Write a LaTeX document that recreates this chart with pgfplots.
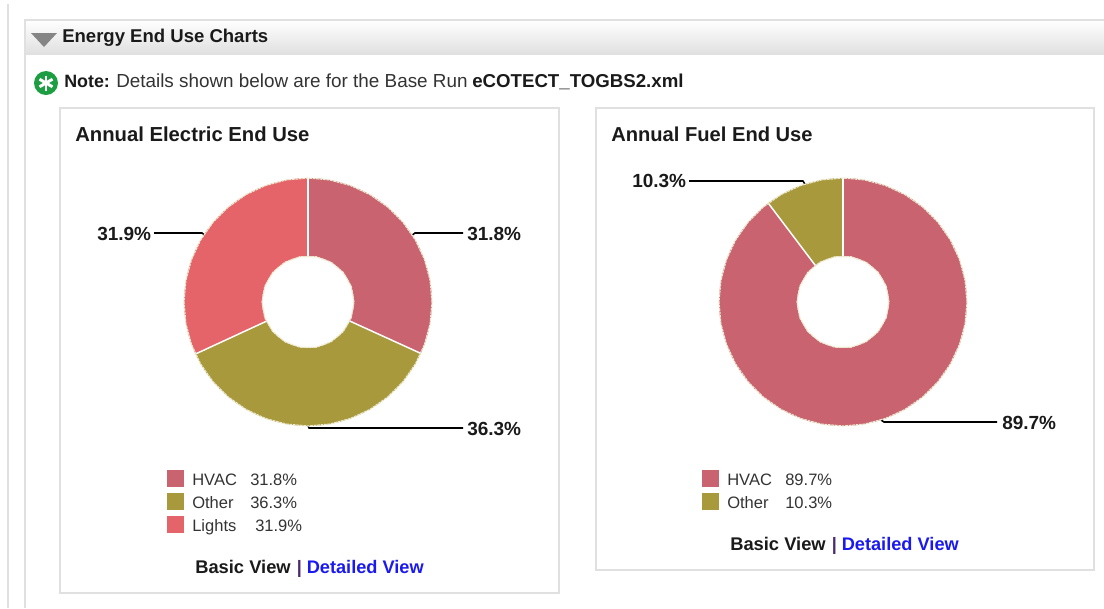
\documentclass[border=0pt]{standalone}
\usepackage{fontspec}
\setmainfont{Liberation Sans}
\usepackage{pgfplots}
\usepackage{pgfplotstable}
\pgfplotsset{compat=1.18}
\usepgfplotslibrary{polar}
\definecolor{cHVAC}{HTML}{C96370}
\definecolor{cOther}{HTML}{A89A3C}
\definecolor{cLights}{HTML}{E56469}
\definecolor{cFrame}{HTML}{E0E0E0}
\definecolor{cEdge}{HTML}{EDE9D0}
\definecolor{cLink}{HTML}{1A1AF0}
\definecolor{cGreen}{HTML}{1E9E42}
\definecolor{cInk}{HTML}{1A1A1A}
\definecolor{cGrey}{HTML}{333333}
\definecolor{cPipe}{HTML}{4A2A70}
\pgfplotstableread{
a r
0 124
10 124
20 124
30 124
40 124
50 124
60 124
70 124
80 124
90 124
100 124
110 124
120 124
130 124
140 124
150 124
160 124
170 124
180 124
190 124
200 124
210 124
220 124
230 124
240 124
250 124
260 124
270 124
280 124
290 124
300 124
310 124
320 124
330 124
340 124
350 124
360 124
}\outerring
\pgfplotstableread{
a r
0 46
20 46
40 46
60 46
80 46
100 46
120 46
140 46
160 46
180 46
200 46
220 46
240 46
260 46
280 46
300 46
320 46
340 46
360 46
}\innerring
\newcommand{\TT}[5]{\node[anchor=base west,inner sep=0pt,text=#4,font=\fontsize{#3}{#3}\selectfont] at (axis cs:#1,#2) {#5};}
\newcommand{\TB}[5]{\node[anchor=base west,inner sep=0pt,text=#4,font=\fontsize{#3}{#3}\selectfont\bfseries] at (axis cs:#1,#2) {#5};}
\newcommand{\Sw}[3]{\fill[#3] (axis cs:#1,#2) rectangle (axis cs:#1+17,#2+17);}
\pgfplotsset{donut/.style={
  hide axis, scale only axis, width=186pt, height=186pt, xmin=0, xmax=360, ymin=0, ymax=124,
  clip=false, anchor=center}}
\begin{document}
\begin{tikzpicture}[x=1pt,y=1pt]
\path[use as bounding box] (0,0) rectangle (828pt,456pt);
\begin{axis}[at={(0,0)},anchor=south west,scale only axis,width=828pt,height=456pt,
  xmin=0,xmax=1104,ymin=0,ymax=608,y dir=reverse,hide axis,clip=false]
% page frames
\draw[cFrame,line width=1.3pt] (axis cs:8,4) -- (axis cs:8,608);
\shade[top color=white,bottom color=cFrame] (axis cs:25,20) rectangle (axis cs:1104,54);
\draw[cFrame,line width=0.9pt] (axis cs:1104,20) -- (axis cs:25,20) -- (axis cs:25,608);
\draw[cFrame,line width=0.8pt] (axis cs:25,54) -- (axis cs:1104,54);
\draw[cFrame,line width=0.9pt] (axis cs:60,108) rectangle (axis cs:559,593);
\draw[cFrame,line width=0.9pt] (axis cs:596,108) rectangle (axis cs:1094,570);
% header
\fill[black!48] (axis cs:31,33) -- (axis cs:57,33) -- (axis cs:44,47) -- cycle;
\TB{62}{42}{13.9}{cInk}{Energy End Use Charts}
% note
\fill[cGreen] (axis cs:46,83) circle[radius=9pt];
\draw[white,line width=2.2pt] (axis cs:46,75.5) -- (axis cs:46,90.5);
\draw[white,line width=2.2pt] (axis cs:39.5,79.2) -- (axis cs:52.5,86.8);
\draw[white,line width=2.2pt] (axis cs:39.5,86.8) -- (axis cs:52.5,79.2);
\TB{64}{87}{13.4}{cInk}{Note:}
\TT{116}{87}{14.15}{cGrey}{Details shown below are for the Base Run}
\TB{472}{87}{14}{cInk}{eCOTECT\_TOGBS2.xml}
% titles
\TB{75}{141}{15.2}{cInk}{Annual Electric End Use}
\TB{611}{141}{15.1}{cInk}{Annual Fuel End Use}
% leaders
\draw[black,line width=1.15pt] (axis cs:154,233) -- (axis cs:202,233) -- (axis cs:206,236);
\draw[black,line width=1.15pt] (axis cs:411,236) -- (axis cs:415,233) -- (axis cs:463,233);
\draw[black,line width=1.15pt] (axis cs:307,424) -- (axis cs:309,428) -- (axis cs:463,428);
\draw[black,line width=1.15pt] (axis cs:689,181) -- (axis cs:803,181) -- (axis cs:806,186);
\draw[black,line width=1.15pt] (axis cs:881,420) -- (axis cs:884,422) -- (axis cs:997,422);
% data labels
\TB{97}{240}{14.25}{cInk}{31.9\%}
\TB{467}{240}{14.25}{cInk}{31.8\%}
\TB{467}{435}{14.25}{cInk}{36.3\%}
\TB{632}{187}{14.25}{cInk}{10.3\%}
\TB{1002}{429}{14.25}{cInk}{89.7\%}
% legends
\Sw{167}{470}{cHVAC}
\Sw{167}{493}{cOther}
\Sw{167}{516}{cLights}
\TT{192}{485}{12.4}{cGrey}{HVAC}
\TT{250}{485}{12.4}{cGrey}{31.8\%}
\TT{192}{508}{12.4}{cGrey}{Other}
\TT{250}{508}{12.4}{cGrey}{36.3\%}
\TT{192}{531}{12.4}{cGrey}{Lights}
\TT{255}{531}{12.4}{cGrey}{31.9\%}
\Sw{702}{470}{cHVAC}
\Sw{702}{493}{cOther}
\TT{727}{485}{12.4}{cGrey}{HVAC}
\TT{785}{485}{12.4}{cGrey}{89.7\%}
\TT{727}{508}{12.4}{cGrey}{Other}
\TT{785}{508}{12.4}{cGrey}{10.3\%}
% view links
\TB{195}{573}{13.75}{cInk}{Basic View}
\TB{296.5}{573}{13.5}{cPipe}{|}
\TB{306.5}{573}{13.65}{cLink}{Detailed View}
\TB{730}{550}{13.75}{cInk}{Basic View}
\TB{831.5}{550}{13.5}{cPipe}{|}
\TB{841.5}{550}{13.65}{cLink}{Detailed View}
\end{axis}
% Electric donut
\begin{polaraxis}[donut,at={(231pt,229.5pt)}]
\addplot[fill=cHVAC,draw=none] coordinates {(90,124)(85,124)(80,124)(75,124)(70,124)(65,124)(60,124)(55,124)(50,124)(45,124)(40,124)(35,124)(30,124)(25,124)(20,124)(15,124)(10,124)(5,124)(0,124)(355,124)(350,124)(345,124)(340,124)(335.5,124)(335.5,46)(340,46)(350,46)(0,46)(10,46)(20,46)(30,46)(40,46)(50,46)(60,46)(70,46)(80,46)(90,46)} -- cycle;
\addplot[fill=cOther,draw=none] coordinates {(335.5,124)(330,124)(325,124)(320,124)(315,124)(310,124)(305,124)(300,124)(295,124)(290,124)(285,124)(280,124)(275,124)(270,124)(265,124)(260,124)(255,124)(250,124)(245,124)(240,124)(235,124)(230,124)(225,124)(220,124)(215,124)(210,124)(205,124)(204.8,124)(204.8,46)(210,46)(220,46)(230,46)(240,46)(250,46)(260,46)(270,46)(280,46)(290,46)(300,46)(310,46)(320,46)(330,46)(335.5,46)} -- cycle;
\addplot[fill=cLights,draw=none] coordinates {(204.8,124)(200,124)(195,124)(190,124)(185,124)(180,124)(175,124)(170,124)(165,124)(160,124)(155,124)(150,124)(145,124)(140,124)(135,124)(130,124)(125,124)(120,124)(115,124)(110,124)(105,124)(100,124)(95,124)(90,124)(90,46)(100,46)(110,46)(120,46)(130,46)(140,46)(150,46)(160,46)(170,46)(180,46)(190,46)(200,46)(204.8,46)} -- cycle;
\addplot[white,line width=1.1pt] coordinates {(90,46)(90,124)};
\addplot[white,line width=1.1pt] coordinates {(335.5,46)(335.5,124)};
\addplot[white,line width=1.1pt] coordinates {(204.8,46)(204.8,124)};
\addplot[cEdge,line width=0.9pt,dash pattern=on 2pt off 0.6pt] table[x=a,y=r] {\outerring};
\addplot[cEdge,line width=0.9pt,dash pattern=on 2pt off 0.6pt] table[x=a,y=r] {\innerring};
\end{polaraxis}
% Fuel donut
\begin{polaraxis}[donut,at={(632.25pt,229.5pt)}]
\addplot[fill=cHVAC,draw=none] coordinates {(90,124)(85,124)(80,124)(75,124)(70,124)(65,124)(60,124)(55,124)(50,124)(45,124)(40,124)(35,124)(30,124)(25,124)(20,124)(15,124)(10,124)(5,124)(0,124)(355,124)(350,124)(345,124)(340,124)(335,124)(330,124)(325,124)(320,124)(315,124)(310,124)(305,124)(300,124)(295,124)(290,124)(285,124)(280,124)(275,124)(270,124)(265,124)(260,124)(255,124)(250,124)(245,124)(240,124)(235,124)(230,124)(225,124)(220,124)(215,124)(210,124)(205,124)(200,124)(195,124)(190,124)(185,124)(180,124)(175,124)(170,124)(165,124)(160,124)(155,124)(150,124)(145,124)(140,124)(135,124)(130,124)(127.1,124)(127.1,46)(130,46)(140,46)(150,46)(160,46)(170,46)(180,46)(190,46)(200,46)(210,46)(220,46)(230,46)(240,46)(250,46)(260,46)(270,46)(280,46)(290,46)(300,46)(310,46)(320,46)(330,46)(340,46)(350,46)(0,46)(10,46)(20,46)(30,46)(40,46)(50,46)(60,46)(70,46)(80,46)(90,46)} -- cycle;
\addplot[fill=cOther,draw=none] coordinates {(127.1,124)(125,124)(120,124)(115,124)(110,124)(105,124)(100,124)(95,124)(90,124)(90,46)(100,46)(110,46)(120,46)(127.1,46)} -- cycle;
\addplot[white,line width=1.1pt] coordinates {(90,46)(90,124)};
\addplot[white,line width=1.1pt] coordinates {(127.1,46)(127.1,124)};
\addplot[cEdge,line width=0.9pt,dash pattern=on 2pt off 0.6pt] table[x=a,y=r] {\outerring};
\addplot[cEdge,line width=0.9pt,dash pattern=on 2pt off 0.6pt] table[x=a,y=r] {\innerring};
\end{polaraxis}
\end{tikzpicture}
\end{document}
